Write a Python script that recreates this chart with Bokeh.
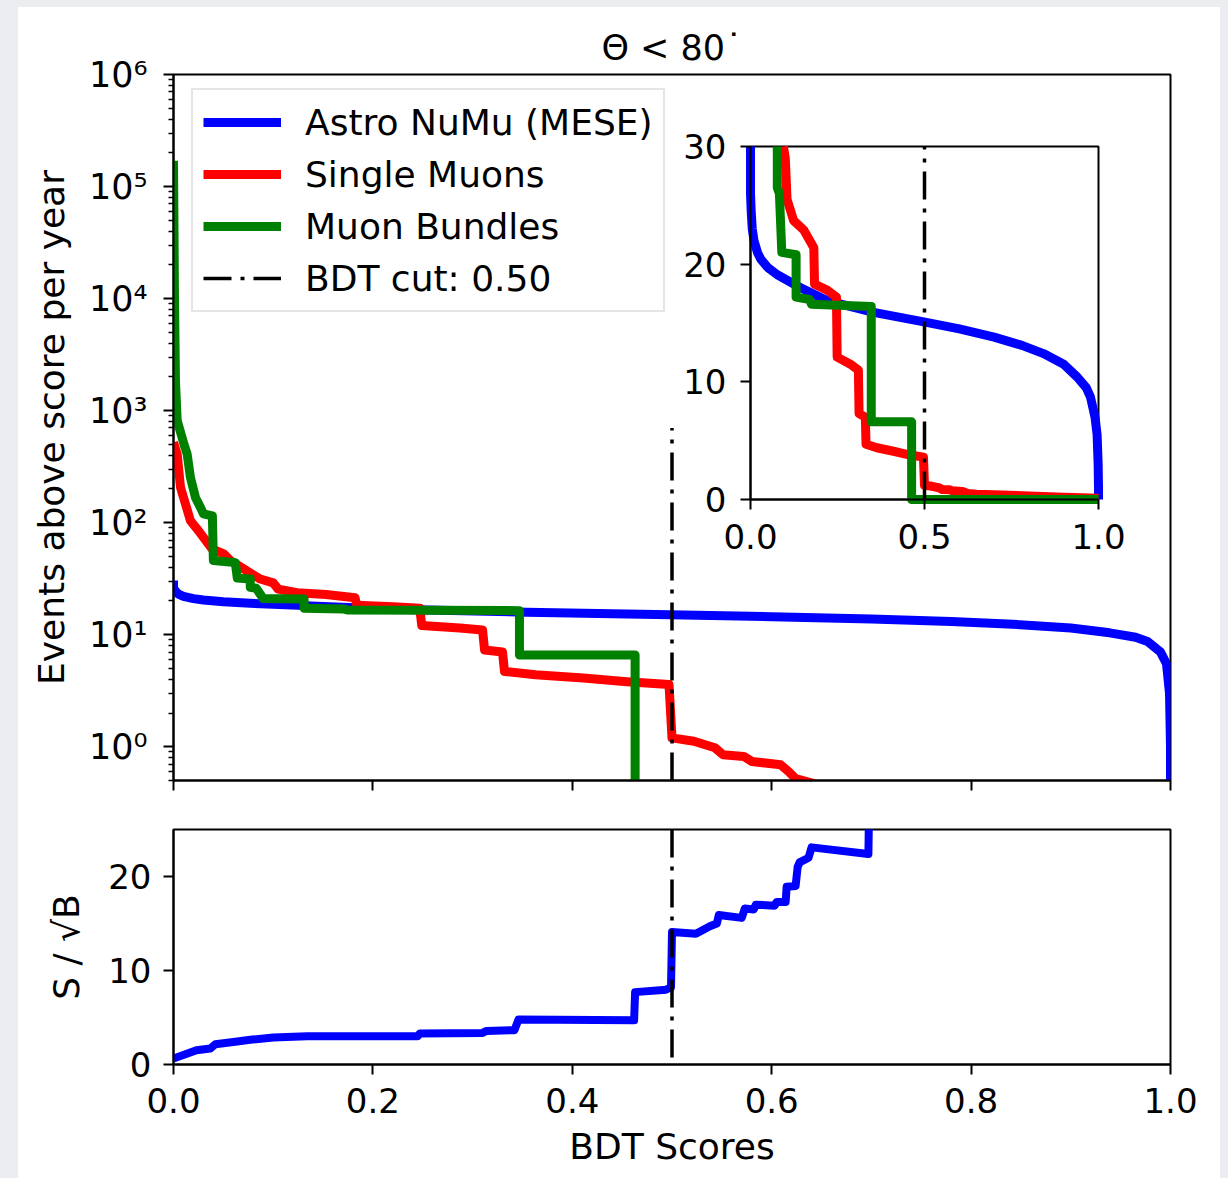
import numpy as np
from bokeh.plotting import figure
from bokeh.models import (Range1d, LinearScale, LinearAxis, FixedTicker, PrintfTickFormatter,
                          CustomJSTickFormatter, Legend, LegendItem, Span)
from bokeh.layouts import column
from bokeh.embed import file_html
from bokeh.resources import INLINE

# ---------------- data ----------------
TITLE = "Θ < 80˙"
LABELS = ["Astro NuMu (MESE)", "Single Muons", "Muon Bundles", "BDT cut: 0.50"]
BDT_CUT = 0.50
CUT_TOP = 700.0

blue_x = [0.0, 0.0, 0.002, 0.005, 0.01, 0.02, 0.03, 0.05, 0.077, 0.144, 0.22, 0.354, 0.498,
          0.60, 0.70, 0.78, 0.842, 0.90, 0.939, 0.965, 0.977, 0.99, 0.996, 0.999, 1.0, 1.0]
blue_y = [30.5, 26.0, 24.5, 23.0, 22.0, 21.0, 20.4, 19.7, 19.1, 18.0, 16.9, 15.9, 15.1,
          14.5, 13.8, 13.1, 12.4, 11.5, 10.4, 9.5, 8.7, 7.0, 5.5, 3.0, 1.0, 0.0]

red_x = [0.0, 0.0037, 0.007, 0.012, 0.017, 0.025, 0.030, 0.039, 0.050, 0.057, 0.074, 0.087,
         0.100, 0.105, 0.124, 0.153, 0.182, 0.184, 0.220, 0.247, 0.249, 0.287, 0.310, 0.312,
         0.330, 0.332, 0.363, 0.411, 0.455, 0.497, 0.500, 0.522, 0.543, 0.551, 0.572, 0.580,
         0.609, 0.617, 0.624, 0.650, 0.700, 0.800, 0.900, 1.000]
red_y = [520, 410, 207, 147, 104, 85, 74, 58, 53, 46, 37, 31.4,
         29.0, 25.5, 23.7, 22.9, 21.4, 18.3, 17.8, 17.2, 12.1, 11.5, 11.0, 7.3,
         7.0, 4.7, 4.4, 4.1, 3.8, 3.6, 1.2, 1.12, 0.98, 0.85, 0.82, 0.74,
         0.69, 0.60, 0.52, 0.45, 0.40, 0.30, 0.20, 0.10]

green_x = [0.0, 0.001, 0.002, 0.0037, 0.0104, 0.0137, 0.017, 0.022, 0.027, 0.030, 0.039, 0.040,
           0.062, 0.064, 0.077, 0.077, 0.083, 0.090, 0.131, 0.131, 0.170, 0.175, 0.347, 0.347,
           0.463, 0.463, 1.0]
green_y = [170000, 10000, 1800, 815, 505, 410, 253, 168, 137, 120, 115, 46,
           44, 32, 31.5, 26.5, 26.0, 21.0, 20.8, 17.2, 17.0, 16.6, 16.4, 6.6,
           6.6, 0.0, 0.0]

snb_x = [0.0, 0.014, 0.023, 0.037, 0.042, 0.06, 0.079, 0.10, 0.134, 0.245, 0.247, 0.31, 0.314,
         0.342, 0.346, 0.462, 0.463, 0.494, 0.499, 0.5, 0.524, 0.531, 0.538, 0.545, 0.547, 0.57,
         0.573, 0.582, 0.584, 0.603, 0.605, 0.614, 0.615, 0.624, 0.626, 0.628, 0.637, 0.64,
         0.697, 0.698]
snb_y = [0.64, 1.17, 1.52, 1.7, 2.16, 2.4, 2.65, 2.87, 3.0, 3.0, 3.3, 3.36, 3.57,
         3.65, 4.78, 4.7, 7.7, 7.96, 8.2, 14.1, 13.9, 14.3, 14.7, 15.0, 15.9, 15.6,
         16.6, 16.5, 17.0, 16.9, 17.3, 17.3, 18.9, 19.0, 21.0, 21.5, 22.0, 23.1,
         22.4, 30.0]

x_ticks = [0.0, 0.2, 0.4, 0.6, 0.8, 1.0]
main_ylim = (0.5, 1e6)
main_major = [1e0, 1e1, 1e2, 1e3, 1e4, 1e5, 1e6]
low_ylim = (0, 25)
low_yticks = [0, 10, 20]
inset_xlim = (0.0, 1.0)
inset_ylim = (0.0, 30.0)
inset_xticks = [0.0, 0.5, 1.0]
inset_yticks = [0, 10, 20, 30]

# ---------------- style / layout ----------------
FONT = "DejaVu Sans"
FS = "36px"
TFS = "34px"
PAGE_BG = "#ebedf1"
C_BLUE, C_RED, C_GREEN = "#0000ff", "#ff0000", "#008000"
LW = 9
CUT_LW = 3.5
DASH = "28 9 4 9"

W = 1202
LEFT, RIGHT = 155, 50
MAIN_TOP, MAIN_FH, MAIN_BOTTOM = 67, 706, 25
LOW_TOP, LOW_FH, LOW_BOTTOM = 24, 235, 114
FW = W - LEFT - RIGHT
# inset box in frame pixels (from left / from top of the main frame)
IN_L, IN_R, IN_T, IN_B = 577, 925, 72, 425


def style_axis(ax, tick_out=10):
    ax.axis_line_width = 2
    ax.major_tick_line_width = 2
    ax.minor_tick_line_width = 1.5
    ax.major_tick_out = tick_out
    ax.major_tick_in = 0
    ax.minor_tick_out = 5
    ax.minor_tick_in = 0
    ax.major_label_text_font = FONT
    ax.major_label_text_font_size = TFS
    ax.major_label_text_color = "black"
    ax.axis_label_text_font = FONT
    ax.axis_label_text_font_size = FS
    ax.axis_label_text_font_style = "normal"
    ax.axis_label_text_color = "black"


def clip_top(xs, ys, y_hi):
    ox, oy = [], []
    for i in range(len(xs)):
        x, y = xs[i], ys[i]
        if i > 0:
            x0, y0 = xs[i - 1], ys[i - 1]
            if (y0 > y_hi) != (y > y_hi):
                t = (y_hi - y0) / (y - y0)
                ox.append(x0 + t * (x - x0))
                oy.append(y_hi)
        if y <= y_hi:
            ox.append(x)
            oy.append(y)
    return ox, oy


def pos(v):
    return [max(a, 1e-3) for a in v]


# ---------------- main panel ----------------
p = figure(width=W, height=MAIN_TOP + MAIN_FH + MAIN_BOTTOM, y_axis_type="log",
           x_range=Range1d(0, 1), y_range=Range1d(*main_ylim),
           output_backend="svg", toolbar_location=None, title=TITLE,
           min_border_left=LEFT, min_border_right=RIGHT,
           min_border_top=MAIN_TOP, min_border_bottom=MAIN_BOTTOM)
p.margin = (7, 8, 0, 18)
p.grid.visible = False
p.outline_line_color = "black"
p.outline_line_width = 2
p.outline_line_alpha = 1
p.title.align = "center"
p.title.text_font = FONT
p.title.text_font_size = "35px"
p.title.text_font_style = "normal"
p.title.text_color = "black"
p.title.standoff = 14

style_axis(p.xaxis[0])
p.xaxis.ticker = FixedTicker(ticks=x_ticks, minor_ticks=[])
p.xaxis.formatter = CustomJSTickFormatter(code="return '';")
p.xaxis.major_label_text_font_size = "10px"
p.xaxis.major_label_standoff = 0

style_axis(p.yaxis[0])
minor = [m * 10.0 ** e for e in range(-1, 6) for m in range(2, 10)]
minor = [m for m in minor if main_ylim[0] <= m <= main_ylim[1]]
p.yaxis.ticker = FixedTicker(ticks=main_major, minor_ticks=minor)
p.yaxis.formatter = CustomJSTickFormatter(code="""
const sup = {"0":"\u2070","1":"\u00b9","2":"\u00b2","3":"\u00b3","4":"\u2074","5":"\u2075","6":"\u2076","7":"\u2077","8":"\u2078","9":"\u2079","-":"\u207b"};
const e = Math.round(Math.log10(tick));
return "10" + String(e).split("").map(c => sup[c]).join("");
""")
p.yaxis.major_label_text_font_size = "35px"
p.yaxis.major_label_standoff = 16
p.yaxis.axis_label = "Events above score per year"
p.yaxis.axis_label_standoff = 14

r_blue = p.line(blue_x, pos(blue_y), line_color=C_BLUE, line_width=LW, line_join="round")
r_red = p.line(red_x, pos(red_y), line_color=C_RED, line_width=LW, line_join="round")
r_green = p.line(green_x, pos(green_y), line_color=C_GREEN, line_width=LW, line_join="round")
r_cut = p.line([BDT_CUT, BDT_CUT], [main_ylim[0], CUT_TOP], line_color="black",
               line_width=CUT_LW, line_dash=DASH)

legend = Legend(items=[LegendItem(label=LABELS[0], renderers=[r_blue]),
                       LegendItem(label=LABELS[1], renderers=[r_red]),
                       LegendItem(label=LABELS[2], renderers=[r_green]),
                       LegendItem(label=LABELS[3], renderers=[r_cut])],
                location=(18, 468), margin=0, padding=10, spacing=8,
                glyph_width=78, glyph_height=44, label_height=44, label_standoff=24,
                label_text_font=FONT, label_text_font_size=FS, label_text_color="black",
                border_line_color="#cccccc", border_line_width=2,
                background_fill_color="white", background_fill_alpha=1)
p.add_layout(legend, "center")

# ---------------- inset (extra ranges inside the main frame) ----------------
FH = MAIN_FH
ix_span = (inset_xlim[1] - inset_xlim[0]) * FW / (IN_R - IN_L)
ix_start = inset_xlim[0] - IN_L / FW * ix_span
iy_span = (inset_ylim[1] - inset_ylim[0]) * FH / (IN_B - IN_T)
iy_start = inset_ylim[0] - (FH - IN_B) / FH * iy_span
p.extra_x_ranges = {"ix": Range1d(ix_start, ix_start + ix_span)}
p.extra_y_ranges = {"iy": Range1d(iy_start, iy_start + iy_span)}
p.extra_x_scales = {"ix": LinearScale()}
p.extra_y_scales = {"iy": LinearScale()}

p.quad(left=[inset_xlim[0]], right=[inset_xlim[1]], bottom=[inset_ylim[0]], top=[inset_ylim[1]],
       fill_color="white", line_color="black", line_width=2,
       x_range_name="ix", y_range_name="iy")
for xs, ys, col in [(blue_x, blue_y, C_BLUE), (red_x, red_y, C_RED), (green_x, green_y, C_GREEN)]:
    cx, cy = clip_top(xs, ys, inset_ylim[1])
    p.line(cx, cy, line_color=col, line_width=LW, line_join="round",
           x_range_name="ix", y_range_name="iy")
p.line([BDT_CUT, BDT_CUT], [inset_ylim[0], inset_ylim[1]], line_color="black", line_width=CUT_LW,
       line_dash=DASH, x_range_name="ix", y_range_name="iy")

iax = LinearAxis(x_range_name="ix", y_range_name="iy", fixed_location=inset_ylim[0],
                 bounds=inset_xlim, ticker=FixedTicker(ticks=inset_xticks, minor_ticks=[]),
                 formatter=PrintfTickFormatter(format="%.1f"))
style_axis(iax)
iax.major_label_standoff = 14
p.add_layout(iax, "below")
iay = LinearAxis(x_range_name="ix", y_range_name="iy", fixed_location=inset_xlim[0],
                 bounds=inset_ylim, ticker=FixedTicker(ticks=inset_yticks, minor_ticks=[]),
                 formatter=PrintfTickFormatter(format="%d"))
style_axis(iay)
iay.major_label_standoff = 14
p.add_layout(iay, "left")

# ---------------- lower panel ----------------
q = figure(width=W, height=LOW_TOP + LOW_FH + LOW_BOTTOM,
           x_range=Range1d(0, 1), y_range=Range1d(*low_ylim),
           output_backend="svg", toolbar_location=None,
           min_border_left=LEFT, min_border_right=RIGHT,
           min_border_top=LOW_TOP, min_border_bottom=LOW_BOTTOM)
q.margin = (0, 8, 0, 18)
q.grid.visible = False
q.outline_line_color = "black"
q.outline_line_width = 2
q.outline_line_alpha = 1
style_axis(q.xaxis[0])
q.xaxis.ticker = FixedTicker(ticks=x_ticks, minor_ticks=[])
q.xaxis.formatter = PrintfTickFormatter(format="%.1f")
q.xaxis.major_label_standoff = 13
q.xaxis.axis_label = "BDT Scores"
q.xaxis.axis_label_standoff = 10
style_axis(q.yaxis[0])
q.yaxis.ticker = FixedTicker(ticks=low_yticks, minor_ticks=[])
q.yaxis.formatter = PrintfTickFormatter(format="%d")
q.yaxis.major_label_standoff = 12
q.yaxis.axis_label = "S / √B"
q.yaxis.axis_label_standoff = 18

q.line(snb_x, snb_y, line_color=C_BLUE, line_width=8, line_join="round")
q.add_layout(Span(location=BDT_CUT, dimension="height", line_color="black",
                  line_width=CUT_LW, line_dash=DASH))

bg = ("linear-gradient(%s, %s) 0 0 / 100%% 7px no-repeat, "
      "linear-gradient(to right, %s 18px, white 18px, white 1220px, %s 1220px)"
      % (PAGE_BG, PAGE_BG, PAGE_BG, PAGE_BG))
layout = column(p, q, styles={"background": bg})
open("out.html", "w").write(file_html(layout, INLINE))
